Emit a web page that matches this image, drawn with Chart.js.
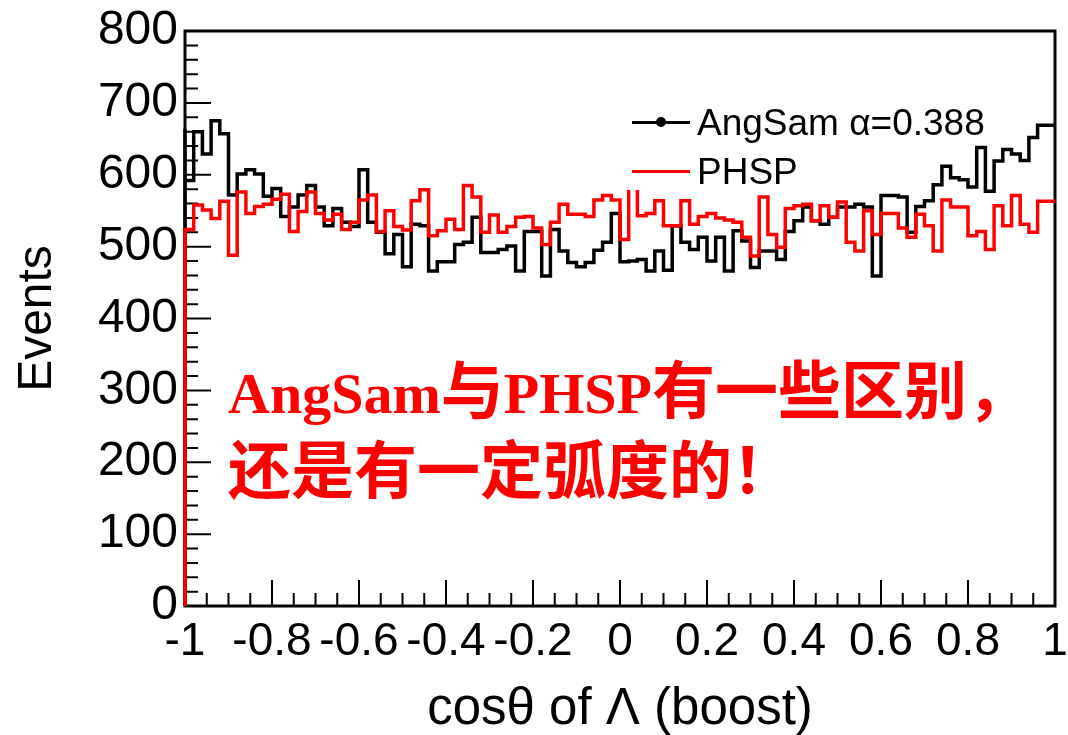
<!DOCTYPE html>
<html lang="zh">
<head>
<meta charset="UTF-8" />
<title>cosθ of Λ (boost)</title>
<script src="https://cdn.jsdelivr.net/npm/chart.js"></script>
<style>
  body { margin: 0; background: #fff; }
  #wrap { position: relative; width: 1068px; height: 735px; overflow: hidden; }
  .legend-box { position: absolute; left: 620px; top: 95px; width: 310px; height: 95px; background: #fff; }
  .leg-line { position: absolute; left: 632px; width: 58px; height: 3px; }
  .leg-dot { position: absolute; left: 656px; width: 10px; height: 10px; border-radius: 50%; background: #000; }
  .leg-text { position: absolute; left: 697px; font: 37px/37px "Liberation Sans", Arial, sans-serif; color: #000; white-space: nowrap; }
  .note { position: absolute; left: 228px; top: 350px; color: #ff0000; font-weight: bold;
          font-size: 63px; line-height: 72px; font-family: "Noto Sans CJK SC", sans-serif; white-space: nowrap; }
  .note .lat { font-family: "Liberation Serif", serif; font-size: 58px; }
</style>
</head>
<body>
<div id="wrap">
  <canvas id="hist" width="1068" height="735"></canvas>

  <div class="legend-box"></div>
  <div class="leg-line" style="top:121px; background:#000;"></div>
  <div class="leg-dot" style="top:117px;"></div>
  <div class="leg-text" style="top:104px;">AngSam α=0.388</div>
  <div class="leg-line" style="top:170px; background:#ff0000;"></div>
  <div class="leg-text" style="top:153px;">PHSP</div>

  <div class="note"><span class="lat">AngSam</span>与<span class="lat">PHSP</span>有一些区别，<br>还是有一定弧度的！</div>
</div>

<script>
  // 100 bins from -1 to 1, events per bin
  const angSam = [
    664, 592, 660, 629, 675, 657, 572, 601, 607, 601,
    570, 581, 542, 555, 572, 585, 555, 529, 553, 534,
    528, 607, 534, 520, 490, 517, 472, 531, 529, 466,
    479, 479, 503, 506, 541, 492, 492, 496, 501, 466,
    521, 521, 459, 524, 494, 478, 472, 478, 495, 506,
    546, 479, 480, 482, 466, 494, 467, 529, 506, 496,
    513, 480, 513, 466, 522, 508, 471, 494, 494, 482,
    521, 536, 555, 536, 531, 541, 555, 555, 559, 555,
    459, 571, 571, 569, 520, 556, 564, 586, 612, 596,
    593, 583, 638, 577, 619, 635, 629, 620, 652, 669
  ];
  const phsp = [
    521, 524, 558, 551, 539, 563, 488, 576, 546, 556,
    559, 566, 573, 521, 549, 576, 546, 537, 545, 524,
    534, 565, 572, 521, 550, 528, 523, 564, 579, 515,
    522, 538, 524, 585, 569, 520, 544, 520, 528, 541,
    542, 526, 503, 534, 559, 545, 545, 542, 565, 571,
    565, 510, 595, 543, 546, 564, 529, 529, 564, 531,
    542, 546, 540, 537, 534, 513, 487, 569, 517, 499,
    553, 557, 559, 536, 557, 541, 562, 506, 494, 550,
    517, 546, 546, 526, 513, 545, 529, 494, 565, 555,
    555, 515, 521, 496, 557, 529, 571, 531, 520, 563
  ];
  const xTickLabels = ["-1", "-0.8", "-0.6", "-0.4", "-0.2", "0", "0.2", "0.4", "0.6", "0.8", "1"];
  const yTickLabels = ["0", "100", "200", "300", "400", "500", "600", "700", "800"];

  const xMin = -1, xMax = 1;
  const binWidth = (xMax - xMin) / angSam.length;

  // step line points: start on the baseline, one point per left bin edge
  function histPoints(vals) {
    const pts = [{ x: xMin, y: 0 }];
    vals.forEach((v, i) => pts.push({ x: xMin + i * binWidth, y: v }));
    pts.push({ x: xMax, y: vals[vals.length - 1] });
    return pts;
  }

  // ROOT-like frame with inward major/minor ticks
  const rootFrame = {
    id: "rootFrame",
    beforeDatasetsDraw(chart) {
      const { ctx, chartArea: a, scales: { x, y } } = chart;
      ctx.save();
      ctx.strokeStyle = "#000";
      ctx.lineWidth = 2;
      ctx.beginPath();
      for (let i = 0; i <= 40; i++) {
        const px = x.getPixelForValue(xMin + i * 0.05);
        const len = i % 4 === 0 ? 26 : 13;
        ctx.moveTo(px, a.bottom);
        ctx.lineTo(px, a.bottom - len);
      }
      for (let i = 0; i <= 40; i++) {
        const py = y.getPixelForValue(i * 20);
        const len = i % 5 === 0 ? 26 : 13;
        ctx.moveTo(a.left, py);
        ctx.lineTo(a.left + len, py);
      }
      ctx.stroke();
      ctx.lineWidth = 3;
      ctx.strokeRect(a.left, a.top, a.right - a.left, a.bottom - a.top);
      ctx.restore();
    }
  };

  const font = "'Liberation Sans', Arial, sans-serif";

  new Chart(document.getElementById("hist"), {
    type: "line",
    data: {
      datasets: [
        {
          label: "PHSP",
          data: histPoints(phsp),
          borderColor: "#ff0000",
          borderWidth: 3.5,
          stepped: "after",
          pointRadius: 0,
          order: 0,
          clip: 4
        },
        {
          label: "AngSam α=0.388",
          data: histPoints(angSam),
          borderColor: "#000000",
          borderWidth: 3.5,
          stepped: "after",
          pointRadius: 0,
          order: 1,
          clip: 4
        }
      ]
    },
    options: {
      responsive: false,
      animation: false,
      layout: { padding: { top: 31, right: 13, bottom: 0, left: 0 } },
      plugins: { legend: { display: false }, tooltip: { enabled: false } },
      scales: {
        x: {
          type: "linear",
          min: xMin,
          max: xMax,
          grid: { display: false, drawTicks: false },
          border: { display: false },
          ticks: {
            stepSize: 0.2,
            autoSkip: false,
            maxRotation: 0,
            padding: 9,
            color: "#000",
            font: { family: font, size: 46 },
            callback: (v, i) => xTickLabels[i]
          },
          title: {
            display: true,
            text: "cosθ of Λ (boost)",
            color: "#000",
            padding: 0,
            font: { family: font, size: 51, lineHeight: 1 }
          },
          afterFit: (s) => { s.height = 129; s.paddingLeft = 0; s.paddingRight = 0; }
        },
        y: {
          min: 0,
          max: 800,
          grid: { display: false, drawTicks: false },
          border: { display: false },
          ticks: {
            stepSize: 100,
            padding: 7,
            color: "#000",
            font: { family: font, size: 48 },
            callback: (v, i) => yTickLabels[i]
          },
          title: {
            display: true,
            text: "Events",
            color: "#000",
            padding: { top: 14, bottom: 0 },
            font: { family: font, size: 48, lineHeight: 1 }
          },
          afterFit: (s) => { s.width = 185; s.paddingTop = 0; s.paddingBottom = 0; }
        }
      }
    },
    plugins: [rootFrame]
  });
</script>
</body>
</html>
